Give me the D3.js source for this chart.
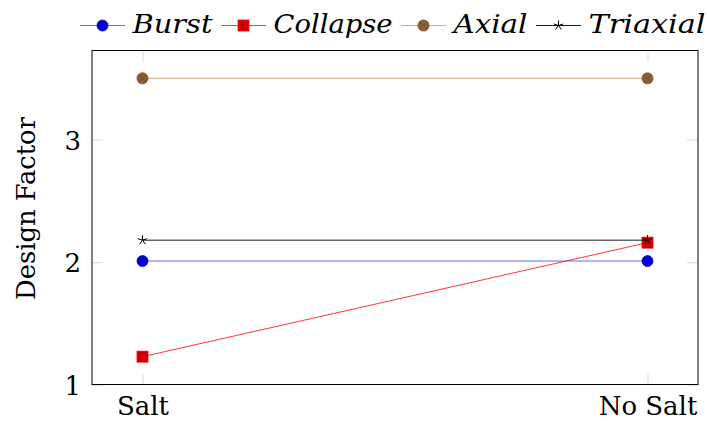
<!DOCTYPE html>
<html><head><meta charset="utf-8">
<script src="https://cdn.jsdelivr.net/npm/d3@7"></script>
<style>
html,body{margin:0;padding:0;background:#fff;}
svg{display:block;}
svg text{font-family:"DejaVu Serif","Liberation Serif","Noto Serif",serif;}
</style></head>
<body>
<svg id="chart" width="707" height="421"></svg>
<script>
// ---- data ----
const categories = ["Salt", "No Salt"];
const seriesNames = ["Burst", "Collapse", "Axial", "Triaxial"];
const burst    = [2.01, 2.01];
const collapse = [1.23, 2.16];
const axial    = [3.50, 3.50];
const triaxial = [2.18, 2.18];
const yTicks = [1, 2, 3];
const yLabel = "Design Factor";

// ---- style / layout ----
const M = {left: 92, right: 698, top: 50.5, bottom: 384.5};
const styles = [
  {line: "#0000ff", lw: 0.6, fill: "#0000cc", stroke: "#0000cc", mark: "circle"},
  {line: "#ff0000", lw: 0.8, fill: "#cc0000", stroke: "#ff0000", mark: "square"},
  {line: "#bf8040", lw: 0.7, fill: "#8f5f30", stroke: "#6e4822", mark: "otimes"},
  {line: "#000000", lw: 0.9, fill: "none",    stroke: "#000000", mark: "star"}
];
const legendTextWidths = [80, 119, 74, 117];
const serif = '"DejaVu Serif", "Liberation Serif", "Noto Serif", serif';

const series = [burst, collapse, axial, triaxial].map((vals, i) => ({
  name: seriesNames[i], values: vals, style: styles[i]
}));

const svg = d3.select("#chart");

const x = d3.scalePoint().domain(categories).range([M.left, M.right]).padding(0.1);
const allVals = series.flatMap(s => s.values);
const lo = d3.min(allVals), hi = d3.max(allVals), span = hi - lo;
const y = d3.scaleLinear().domain([lo - 0.1 * span, hi + 0.1 * span]).range([M.bottom, M.top]);

const tickCol = "#d9d9d9";

const gL = svg.append("g").attr("transform", `translate(${M.left},0)`)
  .call(d3.axisLeft(y).tickValues(yTicks).tickSizeInner(-11).tickSizeOuter(0).tickPadding(11).tickFormat(d3.format("d")));
const gR = svg.append("g").attr("transform", `translate(${M.right},0)`)
  .call(d3.axisRight(y).tickValues(yTicks).tickSizeInner(-11).tickSizeOuter(0).tickFormat(""));
const gB = svg.append("g").attr("transform", `translate(0,${M.bottom})`)
  .call(d3.axisBottom(x).tickSizeInner(-11).tickSizeOuter(0).tickPadding(12));
const gT = svg.append("g").attr("transform", `translate(0,${M.top})`)
  .call(d3.axisTop(x).tickSizeInner(-11).tickSizeOuter(0).tickFormat(""));

[gL, gR, gB, gT].forEach(g => {
  g.attr("font-family", null);
  g.select(".domain").remove();
  g.selectAll(".tick line").attr("stroke", tickCol).attr("stroke-width", 1);
  g.selectAll(".tick text").attr("fill", "#000").style("font-family", serif).attr("font-size", 26);
});
gL.selectAll(".tick text").attr("dy", "0.36em");
gB.selectAll(".tick text").attr("dy", "0.72em");

svg.append("rect")
  .attr("x", M.left).attr("y", M.top)
  .attr("width", M.right - M.left).attr("height", M.bottom - M.top)
  .attr("fill", "none").attr("stroke", "#000").attr("stroke-width", 1);

svg.append("text")
  .attr("transform", `translate(35,${(M.top + M.bottom) / 2 - 9}) rotate(-90)`)
  .attr("text-anchor", "middle")
  .style("font-family", serif).attr("font-size", 26)
  .attr("textLength", 183).attr("lengthAdjust", "spacingAndGlyphs")
  .text(yLabel);

function drawMark(g, st, cx, cy) {
  if (st.mark === "circle") {
    g.append("circle").attr("cx", cx).attr("cy", cy).attr("r", 5.5)
      .attr("fill", st.fill).attr("stroke", st.stroke).attr("stroke-width", 0.8);
  } else if (st.mark === "square") {
    g.append("rect").attr("x", cx - 5.5).attr("y", cy - 5.5).attr("width", 11).attr("height", 11)
      .attr("fill", st.fill).attr("stroke", st.stroke).attr("stroke-width", 0.8);
  } else if (st.mark === "otimes") {
    const r = 5.5, d = r * Math.SQRT1_2;
    g.append("circle").attr("cx", cx).attr("cy", cy).attr("r", r)
      .attr("fill", st.fill).attr("stroke", st.stroke).attr("stroke-width", 0.8);
    g.append("path").attr("d", `M${cx - d},${cy - d}L${cx + d},${cy + d}M${cx - d},${cy + d}L${cx + d},${cy - d}`)
      .attr("stroke", st.stroke).attr("stroke-width", 0.8);
  } else if (st.mark === "star") {
    const r = 5;
    let p = "";
    for (let k = 0; k < 5; k++) {
      const a = -Math.PI / 2 + k * 2 * Math.PI / 5;
      p += `M${cx},${cy}L${cx + r * Math.cos(a)},${cy + r * Math.sin(a)}`;
    }
    g.append("path").attr("d", p).attr("fill", "none").attr("stroke", st.stroke).attr("stroke-width", 1);
  }
}

const line = d3.line().x((d, i) => x(categories[i])).y(d => y(d));
const plot = svg.append("g");
series.forEach(s => {
  const g = plot.append("g");
  g.append("path").attr("d", line(s.values)).attr("fill", "none")
    .attr("stroke", s.style.line).attr("stroke-width", s.style.lw);
  s.values.forEach((v, i) => drawMark(g, s.style, x(categories[i]), y(v)));
});

const leg = svg.append("g");
let lx = 80;
const ly = 25.5;
series.forEach((s, i) => {
  const g = leg.append("g");
  g.append("line").attr("x1", lx).attr("x2", lx + 45).attr("y1", ly).attr("y2", ly)
    .attr("stroke", s.style.line).attr("stroke-width", s.style.lw);
  drawMark(g, s.style, lx + 22.5, ly);
  lx += 45 + 7.5;
  g.append("text").attr("x", lx).attr("y", ly + 7.5)
    .style("font-family", serif).attr("font-style", "italic").attr("font-size", 26)
    .attr("textLength", legendTextWidths[i]).attr("lengthAdjust", "spacingAndGlyphs")
    .text(s.name);
  lx += legendTextWidths[i] + 8.5;
});
</script>
</body></html>
